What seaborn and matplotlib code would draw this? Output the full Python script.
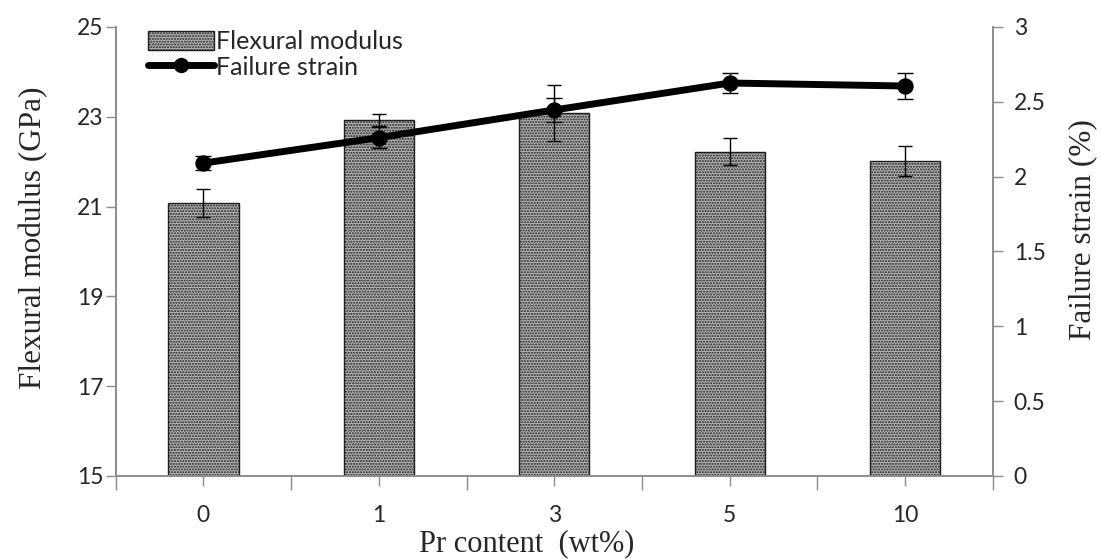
import numpy as np
import pandas as pd
import matplotlib
matplotlib.use("Agg")
import matplotlib.pyplot as plt
import seaborn as sns
from matplotlib.ticker import FixedLocator
from matplotlib.patches import Patch
from matplotlib.lines import Line2D

# ---- data ----
categories = ["0", "1", "3", "5", "10"]
modulus = [21.08, 22.93, 23.08, 22.22, 22.02]
modulus_err = [0.32, 0.14, 0.62, 0.30, 0.33]
strain = [2.09, 2.26, 2.445, 2.625, 2.605]
strain_err = [0.045, 0.07, 0.08, 0.07, 0.09]
left_ticks = [15, 17, 19, 21, 23, 25]
right_ticks = [0, 0.5, 1, 1.5, 2, 2.5, 3]

df = pd.DataFrame({"cat": categories, "modulus": modulus, "strain": strain})

sns.set_theme(style="white")
plt.rcParams["font.family"] = ["Lato", "DejaVu Sans"]
plt.rcParams["hatch.linewidth"] = 1.0
plt.rcParams["hatch.color"] = "#222222"

BAR_FACE = "#b4b4b4"
HATCH = "......"

fig = plt.figure(figsize=(11.02, 5.6), dpi=100)
ax = fig.add_axes([0.105, 0.15, 0.796, 0.802])

sns.barplot(data=df, x="cat", y="modulus", order=categories, ax=ax,
            color=BAR_FACE, width=0.40, edgecolor="#1e1e1e", linewidth=1.0,
            errorbar=None, saturation=1)
for p in ax.patches:
    p.set_hatch(HATCH)

centers = [p.get_x() + p.get_width() / 2 for p in ax.patches]
ax.errorbar(centers, modulus, yerr=modulus_err, fmt="none", ecolor="black",
            elinewidth=1.0, capsize=4.7, capthick=1.0, zorder=4)

ax.set_ylim(15, 25)
ax.set_xlim(-0.5, len(categories) - 0.5)
ax.yaxis.set_major_locator(FixedLocator(left_ticks))
ax.set_yticklabels([str(t) for t in left_ticks])
ax.xaxis.set_minor_locator(FixedLocator(np.arange(-0.5, len(categories), 1.0)))

ax2 = ax.twinx()
sns.lineplot(x=np.arange(len(categories)), y=strain, ax=ax2, color="black",
             linewidth=5, marker="o", markersize=11, markeredgecolor="black",
             zorder=5)
ax2.errorbar(np.arange(len(categories)), strain, yerr=strain_err, fmt="none",
             ecolor="black", elinewidth=1.0, capsize=5.5, capthick=1.0, zorder=6)
ax2.set_ylim(0, 3)
ax2.yaxis.set_major_locator(FixedLocator(right_ticks))
ax2.set_yticklabels([("%g" % t) for t in right_ticks])
ax2.set_xlim(-0.5, len(categories) - 0.5)

spine_col = "#8c8c8c"
for a in (ax, ax2):
    a.spines["top"].set_visible(False)
    for s in ("left", "right", "bottom"):
        a.spines[s].set_color(spine_col)
        a.spines[s].set_linewidth(1.2)

ax.tick_params(axis="y", which="major", direction="out", length=7, width=1.0,
               color=spine_col, labelsize=16.5, pad=2, left=True)
ax.tick_params(axis="x", which="major", direction="out", length=7, width=1.0,
               color=spine_col, labelsize=16.5, pad=14, bottom=True)
ax.tick_params(axis="x", which="minor", direction="out", length=10, width=1.0,
               color=spine_col, bottom=True)
ax2.tick_params(axis="y", which="major", direction="out", length=7, width=1.0,
                color=spine_col, labelsize=16.5, pad=8, right=True)

serif = ["Liberation Serif", "DejaVu Serif"]
ax.set_xlabel("Pr content  (wt%)", family=serif, fontsize=22)
ax.xaxis.set_label_coords(0.469, -0.118)
ax.set_ylabel("Flexural modulus (GPa)", family=serif, fontsize=22.5)
ax.yaxis.set_label_coords(-0.077, 0.53)
ax2.set_ylabel("Failure strain (%)", family=serif, fontsize=22.5, rotation=90)
ax2.yaxis.set_label_coords(1.086, 0.548)

ax.set_zorder(0)
ax2.set_zorder(1)

handles = [Patch(facecolor=BAR_FACE, edgecolor="#1e1e1e", hatch=HATCH, linewidth=1.0),
           Line2D([0], [0], color="black", lw=5, marker="o", markersize=10)]
ax2.legend(handles, ["Flexural modulus", "Failure strain"],
           loc="upper left", bbox_to_anchor=(0.025, 1.015), frameon=False,
           fontsize=18, handlelength=2.65, handleheight=0.85, handletextpad=0.1,
           labelspacing=0.1, borderaxespad=0)

fig.savefig("out.png", dpi=100)
